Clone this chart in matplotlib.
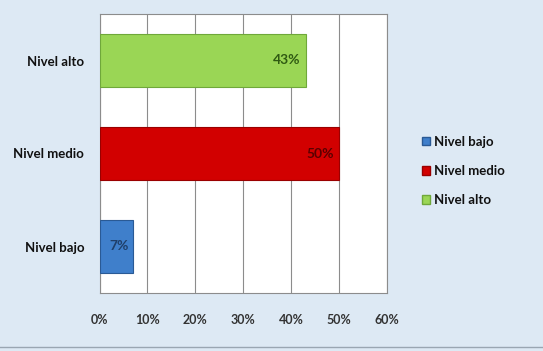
import matplotlib
matplotlib.use("Agg")
import matplotlib.pyplot as plt
from matplotlib.patches import Patch

categories = ["Nivel bajo", "Nivel medio", "Nivel alto"]
values = [7, 50, 43]
labels = ["7%", "50%", "43%"]
colors = ["#3f7fcb", "#d20000", "#9ad655"]
edge_colors = ["#2a5a95", "#9a0000", "#6fa83a"]
label_colors = ["#1f3f6a", "#5a0000", "#2f5a12"]
xticks = [0, 10, 20, 30, 40, 50, 60]
xticklabels = ["0%", "10%", "20%", "30%", "40%", "50%", "60%"]

plt.rcParams['font.family'] = ['Lato', 'DejaVu Sans']

W, H = 543, 351
fig = plt.figure(figsize=(W/100, H/100), dpi=100)
fig.patch.set_facecolor("#dde9f4")

ax = fig.add_axes([99.5/W, 1 - 293/H, (387 - 99.5)/W, (293 - 14)/H])
ax.set_facecolor("white")

ypos = list(range(len(categories)))
bars = ax.barh(ypos, values, height=0.57, color=colors, edgecolor=edge_colors,
               linewidth=0.8, zorder=3)
for b, lab, lc in zip(bars, labels, label_colors):
    ax.text(b.get_width() - 1.0, b.get_y() + b.get_height()/2, lab,
            ha="right", va="center", fontsize=10, fontweight="bold",
            color=lc, zorder=4)

ax.set_xlim(0, 60)
ax.set_ylim(-0.5, 2.5)
ax.set_xticks(xticks)
ax.set_xticklabels(xticklabels, fontsize=9, fontweight="bold", color="#333333")
ax.set_yticks(ypos)
ax.set_yticklabels(categories, fontsize=9.5, fontweight="bold", color="#111111")
ax.tick_params(axis="both", length=0)
ax.tick_params(axis="x", pad=15)
ax.tick_params(axis="y", pad=11)
ax.xaxis.grid(True, color="#8c8c8c", linewidth=0.8, zorder=0)
for s in ax.spines.values():
    s.set_color("#8c8c8c")
    s.set_linewidth(0.8)

handles = [Patch(facecolor=c, edgecolor=e, label=n)
           for c, e, n in zip(colors, edge_colors, categories)]
leg = fig.legend(handles=handles, loc="center left",
                 bbox_to_anchor=(410/W, 1 - 171/H), frameon=False,
                 fontsize=9.5, handlelength=0.6, handleheight=0.6,
                 handletextpad=0.3, labelspacing=1.3,
                 prop={"weight": "bold", "size": 9.5})
for t in leg.get_texts():
    t.set_color("#111111")

fig.add_artist(plt.Line2D([0, 1], [1 - 347/H, 1 - 347/H], color="#9aa6b2",
                          linewidth=1.0, transform=fig.transFigure))

fig.savefig("out.png", dpi=100, facecolor=fig.get_facecolor())
